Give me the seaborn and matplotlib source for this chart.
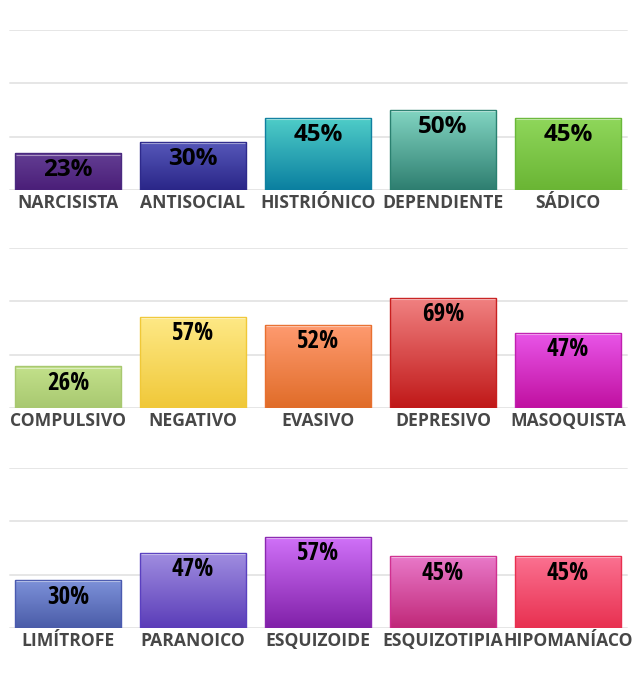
import numpy as np
import pandas as pd
import matplotlib
matplotlib.use("Agg")
import matplotlib.pyplot as plt
import seaborn as sns
from matplotlib.colors import to_rgb
from matplotlib import font_manager as fm

cats1 = ["NARCISISTA", "ANTISOCIAL", "HISTRIÓNICO", "DEPENDIENTE", "SÁDICO"]
vals1 = [23, 30, 45, 50, 45]
cats2 = ["COMPULSIVO", "NEGATIVO", "EVASIVO", "DEPRESIVO", "MASOQUISTA"]
vals2 = [26, 57, 52, 69, 47]
cats3 = ["LIMÍTROFE", "PARANOICO", "ESQUIZOIDE", "ESQUIZOTIPIA", "HIPOMANÍACO"]
vals3 = [30, 47, 57, 45, 45]

tops1 = ["#633e93", "#5657b9", "#4fcdc8", "#82d5c2", "#8fd75b"]
bots1 = ["#4a1e78", "#2a2688", "#0a7fa0", "#2e7e70", "#6ab534"]
edges1 = ["#4a2a80", "#2e2a8c", "#1080a0", "#2a8070", "#6ab83a"]
tops2 = ["#c3e18b", "#fee987", "#ff9b71", "#f18282", "#e956e9"]
bots2 = ["#a8c870", "#f0c838", "#e06c28", "#c01818", "#c010a0"]
edges2 = ["#a8c870", "#f0c838", "#e87030", "#c82020", "#c020b0"]
tops3 = ["#7d91d9", "#a18fe1", "#d172f9", "#e979c9", "#fb7191"]
bots3 = ["#4a5ca8", "#5a3cb8", "#8020a8", "#c02878", "#e83050"]
edges3 = ["#4a5ab0", "#5a40c0", "#8a28b0", "#d03090", "#e83050"]

sns.set_theme(style="white")
plt.rcParams["font.family"] = ["Open Sans", "DejaVu Sans"]

_STR = {"ultra-condensed": 100, "extra-condensed": 200, "condensed": 300,
        "semi-condensed": 400, "normal": 500}

def _stretch_val(st):
    if isinstance(st, str):
        return _STR.get(st, 500)
    return st

def _has(name, stretch=None):
    for f in fm.fontManager.ttflist:
        if f.name != name:
            continue
        if stretch is not None and _stretch_val(f.stretch) != stretch:
            continue
        return True
    return False

# pick a (semi-)condensed bold face for the lower rows' value labels if installed
cond = None
for nm, sv in [("Open Sans SemiCondensed", None), ("Open Sans Semi Condensed", None),
               ("Open Sans", 400), ("Open Sans Condensed", None), ("Open Sans", 300),
               ("Liberation Sans Narrow", None), ("DejaVu Sans", 300)]:
    if _has(nm, sv):
        st = {None: "normal", 400: "semi-condensed", 300: "condensed"}[sv]
        cond = dict(family=[nm, "DejaVu Sans"], stretch=st,
                    semi=(sv == 400 or "Semi" in nm))
        break
if cond is None:
    cond = dict(family=["Open Sans", "DejaVu Sans"], stretch="normal", semi=True)

fig = plt.figure(figsize=(6.35, 6.9), dpi=100)
W, H = 635, 690
normal = dict(family=["Open Sans", "DejaVu Sans"], stretch="normal", semi=True)
rows = [
    (cats1, vals1, tops1, bots1, edges1, 190, normal),
    (cats2, vals2, tops2, bots2, edges2, 408, cond),
    (cats3, vals3, tops3, bots3, edges3, 628, cond),
]

for cats, vals, tops, bots, edges, base, vf in rows:
    ax = fig.add_axes([5.5 / W, 1 - base / H, 625 / W, 160 / H])
    df = pd.DataFrame({"cat": cats, "val": vals})
    sns.barplot(data=df, x="cat", y="val", ax=ax, width=0.85, color="white",
                saturation=1, zorder=3)
    for t in [0, 100 / 3, 200 / 3, 100]:
        ax.axhline(t, xmin=0.007, xmax=0.994, color="#e6e6e6", lw=1.4, zorder=1)
    fs = 17.5 if vf["semi"] else 18.0
    for p, top, bot, ec, v in zip(ax.patches, tops, bots, edges, vals):
        x0, w, h = p.get_x(), p.get_width(), p.get_height()
        c1, c2 = np.array(to_rgb(top)), np.array(to_rgb(bot))
        t = np.linspace(0, 1, 256)[:, None]
        grad = (c1 * (1 - t) + c2 * t)[:, None, :]
        im = ax.imshow(grad, extent=[x0, x0 + w, 0, h], aspect="auto",
                       origin="upper", zorder=3, interpolation="bilinear")
        im.set_clip_path(p)
        p.set_facecolor("none")
        p.set_edgecolor(ec)
        p.set_linewidth(1.0)
        p.set_zorder(4)
        ax.plot([x0 + 0.01, x0 + w - 0.01], [h - 0.9, h - 0.9], color="white",
                alpha=0.45, lw=0.8, zorder=4, solid_capstyle="butt")
        ax.annotate(f"{v}%", (x0 + w / 2, h), xytext=(0, -12.3),
                    textcoords="offset points", ha="center", va="center",
                    fontsize=fs, fontweight="bold", color="black",
                    family=vf["family"], fontstretch=vf["stretch"], zorder=5)
    ax.set_xlim(-0.5, 4.5)
    ax.set_ylim(0, 100)
    ax.set_yticks([])
    ax.set_xlabel("")
    ax.set_ylabel("")
    ax.tick_params(axis="x", length=0, pad=3)
    for lab in ax.get_xticklabels():
        lab.set_fontweight("bold")
        lab.set_fontsize(12.6)
        lab.set_color("#474747")
    for s in ax.spines.values():
        s.set_visible(False)
    ax.patch.set_alpha(0)

fig.savefig("out.png", dpi=100)
